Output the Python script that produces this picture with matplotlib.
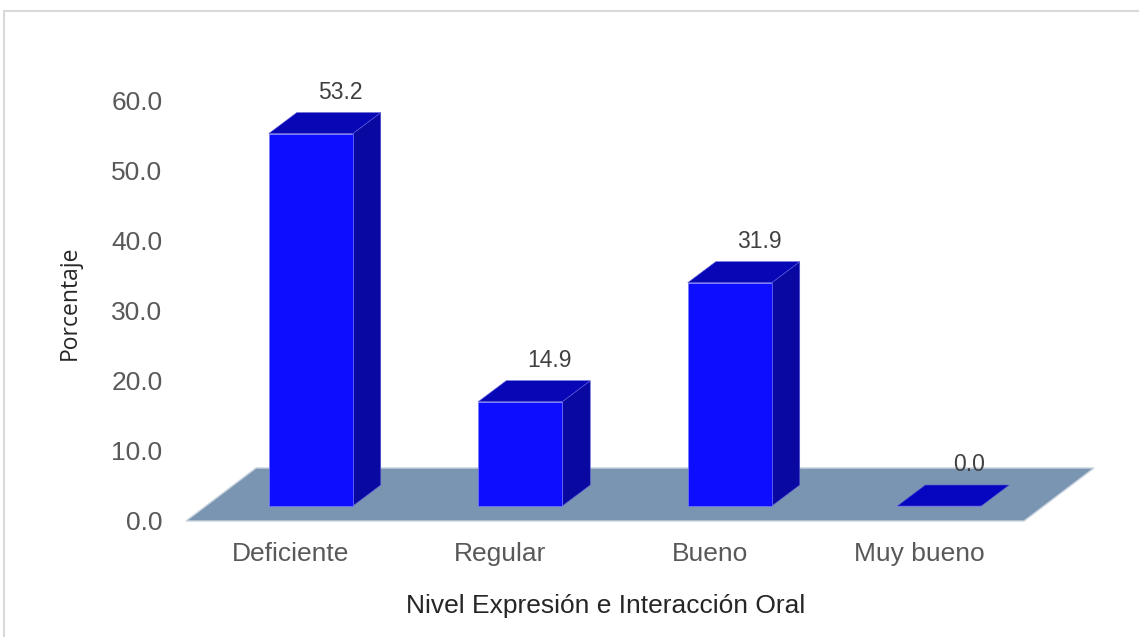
import matplotlib
matplotlib.use("Agg")
import matplotlib.pyplot as plt
from matplotlib.patches import Polygon, Rectangle

# Datos
categorias = ["Deficiente", "Regular", "Bueno", "Muy bueno"]
porcentajes = [53.2, 14.9, 31.9, 0.0]
ticks_y = [0, 10, 20, 30, 40, 50, 60]

# Efecto 3D (unidades de datos)
px_x = 209.5   # pixeles por categoria
px_y = 7.0     # pixeles por punto porcentual
ancho = 84 / px_x
sep_dx, sep_dy = 20 / px_x, 15 / px_y      # desplazamiento de la barra hacia el fondo
prof_dx, prof_dy = 28 / px_x, 21 / px_y    # profundidad de la barra
piso_dx, piso_dy = 70 / px_x, 53 / px_y    # profundidad del piso

c_frente = "#0d0dff"
c_lado = "#0909a2"
c_tope = "#0707b6"
c_piso = "#7a95b1"

plt.rcParams["font.family"] = ["Liberation Sans", "DejaVu Sans"]

fig = plt.figure(figsize=(11.39, 6.37), dpi=100)
W, H = 1139, 637
ax = fig.add_axes([186 / W, (H - 521) / H, 904 / W, 434 / H])
ax.set_xlim(-0.5, -0.5 + 904 / px_x)
ax.set_ylim(0, 434 / px_y)

# borde del area del grafico
fig.patches.append(Rectangle((4 / W, -0.1), 1.2, (H - 11) / H + 0.1,
                             transform=fig.transFigure, fill=False,
                             edgecolor="#d9d9d9", linewidth=1.5))

# piso
n = len(categorias)
piso = Polygon([(-0.5, 0), (n - 0.5, 0), (n - 0.5 + piso_dx, piso_dy),
                (-0.5 + piso_dx, piso_dy)], closed=True,
               facecolor=c_piso, edgecolor="#c8d3de", linewidth=1.0,
               zorder=1, clip_on=False)
ax.add_patch(piso)

for i, v in enumerate(porcentajes):
    xl = i + sep_dx - ancho / 2
    xr = xl + ancho
    base = sep_dy
    tope = base + v
    # cara frontal
    ax.bar(xl, v, width=ancho, bottom=base, align="edge", color=c_frente,
           edgecolor="#7a7aff", linewidth=0.5, zorder=3)
    # cara lateral
    if v > 0:
        ax.add_patch(Polygon([(xr, base), (xr + prof_dx, base + prof_dy),
                              (xr + prof_dx, tope + prof_dy), (xr, tope)],
                             closed=True, facecolor=c_lado,
                             edgecolor="#5a5ad8", linewidth=0.4, zorder=2))
    # cara superior
    ax.add_patch(Polygon([(xl, tope), (xl + prof_dx, tope + prof_dy),
                          (xr + prof_dx, tope + prof_dy), (xr, tope)],
                         closed=True, facecolor=c_tope if v > 0 else "#0606c0",
                         edgecolor="#5a5ad8", linewidth=0.4, zorder=3))
    # etiqueta de valor
    ax.text(i + sep_dx + 0.14, tope + prof_dy + 2.9, f"{v:.1f}",
            ha="center", va="center", fontsize=16.5, color="#404040",
            zorder=5)

ax.set_xticks(range(n))
ax.set_xticklabels(categorias)
ax.set_yticks(ticks_y)
ax.set_yticklabels([f"{t:.1f}" for t in ticks_y])
ax.tick_params(axis="both", length=0, labelsize=19, colors="#595959")
ax.tick_params(axis="y", pad=17)
ax.tick_params(axis="x", pad=15)
for s in ax.spines.values():
    s.set_visible(False)

ax.set_xlabel("Nivel Expresión e Interacción Oral", fontsize=19,
              color="#262626")
ax.xaxis.set_label_coords((606 - 186) / 904, -(606 - 521) / 434)
ax.xaxis.label.set_va("center")
ax.set_ylabel("Porcentaje", fontsize=16.5, color="#262626",
              family=["Open Sans", "DejaVu Sans"])
ax.yaxis.set_label_coords((70 - 186) / 904, (521 - 303) / 434)
ax.yaxis.label.set_va("center")

fig.savefig("out.png", dpi=100, facecolor="white")
